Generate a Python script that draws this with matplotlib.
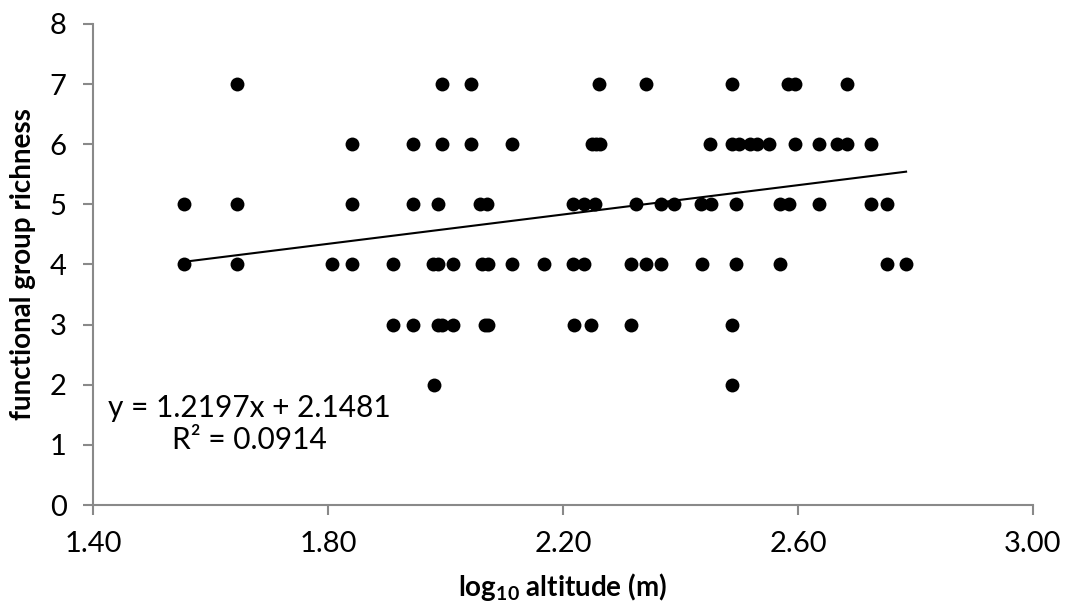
import matplotlib
matplotlib.use("Agg")
import matplotlib.pyplot as plt
import numpy as np

plt.rcParams['font.family'] = ['Lato', 'DejaVu Sans']
plt.rcParams['mathtext.fontset'] = 'custom'
plt.rcParams['mathtext.rm'] = 'Lato'
plt.rcParams['mathtext.bf'] = 'Lato:bold'

# log10 altitude of each site, grouped by functional group richness
alt_r7 = [1.645, 1.994, 2.043, 2.262, 2.341, 2.487, 2.583, 2.595, 2.684]
alt_r6 = [1.841, 1.945, 1.994, 2.043, 2.113, 2.249, 2.256, 2.263, 2.451, 2.487,
          2.500, 2.518, 2.531, 2.551, 2.595, 2.636, 2.666, 2.683, 2.724]
alt_r5 = [1.555, 1.645, 1.841, 1.945, 1.988, 2.059, 2.070, 2.217, 2.235, 2.255,
          2.324, 2.366, 2.389, 2.435, 2.452, 2.494, 2.570, 2.585, 2.636, 2.724,
          2.751]
alt_r4 = [1.555, 1.645, 1.807, 1.841, 1.911, 1.979, 1.988, 2.012, 2.062, 2.073,
          2.113, 2.167, 2.217, 2.235, 2.315, 2.341, 2.366, 2.436, 2.494, 2.570,
          2.751, 2.784]
alt_r3 = [1.911, 1.945, 1.988, 1.994, 2.012, 2.067, 2.072, 2.218, 2.248, 2.316,
          2.487]
alt_r2 = [1.981, 2.487]

groups = {7: alt_r7, 6: alt_r6, 5: alt_r5, 4: alt_r4, 3: alt_r3, 2: alt_r2}

slope = 1.2197
intercept = 2.1481
r2 = 0.0914

x_ticks = [1.40, 1.80, 2.20, 2.60, 3.00]
y_ticks = [0, 1, 2, 3, 4, 5, 6, 7, 8]

x = []
y = []
for rich, alts in groups.items():
    x += alts
    y += [rich] * len(alts)
x = np.array(x)
y = np.array(y)

fig = plt.figure(figsize=(10.7, 6.1), dpi=100)
ax = fig.add_axes([0.0869, 0.1721, 0.8785, 0.7886])

ax.scatter(x, y, s=100, color='black', zorder=3, linewidths=0)

xl = np.array([x.min(), x.max()])
ax.plot(xl, slope * xl + intercept, color='black', lw=1.5, zorder=2)

ax.text(1.667, 1.35, "y = %.4fx + %.4f\nR² = %.4f" % (slope, intercept, r2),
        ha='center', va='center', multialignment='center', fontsize=21.5,
        linespacing=1.2)

ax.set_xlim(1.40, 3.00)
ax.set_ylim(0, 8)
ax.set_xticks(x_ticks)
ax.set_xticklabels(["%.2f" % t for t in x_ticks])
ax.set_yticks(y_ticks)

grey = '#898989'
for s in ['top', 'right']:
    ax.spines[s].set_visible(False)
for s in ['left', 'bottom']:
    ax.spines[s].set_color(grey)
    ax.spines[s].set_linewidth(1.5)
ax.tick_params(axis='both', colors=grey, labelcolor='black', labelsize=21,
               width=1.5, length=7)
ax.tick_params(axis='y', pad=12)
ax.tick_params(axis='x', pad=12)

ax.set_xlabel(r'log$_{\mathbf{10}}$ altitude (m)', fontsize=20,
              fontweight='bold', labelpad=10)
ax.set_ylabel('functional group richness', fontsize=20, fontweight='bold',
              labelpad=10)

fig.savefig('out.png', dpi=100)
